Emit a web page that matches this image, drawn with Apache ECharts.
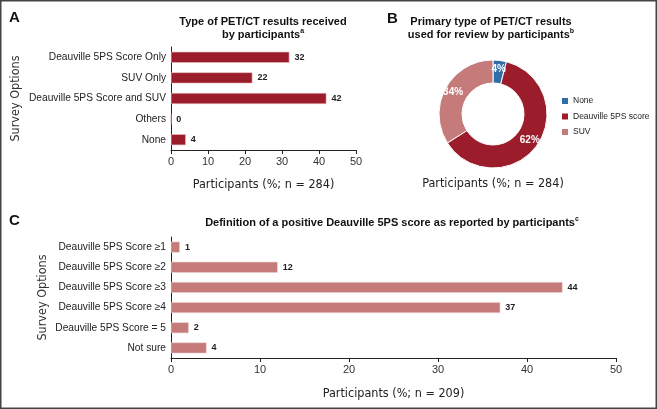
<!DOCTYPE html>
<html>
<head>
<meta charset="utf-8">
<script src="https://cdn.jsdelivr.net/npm/echarts@6/dist/echarts.min.js"></script>
<style>
  html, body { margin: 0; padding: 0; background: #fff; }
  #chart { width: 657px; height: 409px; }
</style>
</head>
<body>
<div id="chart"></div>
<script>
// panel A: type of results received
var typeCats = ['Deauville 5PS Score Only', 'SUV Only', 'Deauville 5PS Score and SUV', 'Others', 'None']
var typeVals = [32, 22, 42, 0, 4]

// panel B: primary type used for review
var primaryNames = ['None', 'Deauville 5PS score', 'SUV']
var primaryVals = [4, 62, 34]

// panel C: positive Deauville definition
var defCats = ['Deauville 5PS Score \u22651', 'Deauville 5PS Score \u22652', 'Deauville 5PS Score \u22653',
  'Deauville 5PS Score \u22654', 'Deauville 5PS Score = 5', 'Not sure']
var defVals = [1, 12, 44, 37, 2, 4]

var xTicks = [0, 10, 20, 30, 40, 50]

var DARK = '#9b1c2b'
var ROSE = '#c47b79'
var BLUE = '#2f6ea8'
var NARROW = '"Liberation Sans Narrow", "DejaVu Sans Condensed", "Liberation Sans", sans-serif'
var SANS = '"Liberation Sans", Arial, sans-serif'

var chart = echarts.init(document.getElementById('chart'))

function xAxisOf(gridIndex, name, gap) {
  return {
    type: 'value',
    gridIndex: gridIndex,
    min: xTicks[0],
    max: xTicks[xTicks.length - 1],
    interval: 10,
    splitLine: { show: false },
    axisLine: { show: true, lineStyle: { color: '#222', width: 1 } },
    axisTick: { show: true, length: 4, lineStyle: { color: '#222' } },
    axisLabel: { color: '#333', fontSize: 11, fontFamily: SANS, margin: 6 },
    name: name,
    nameLocation: 'middle',
    nameGap: gap,
    nameMoveOverlap: false,
    nameTextStyle: { color: '#222', fontSize: 12.5, fontFamily: NARROW }
  }
}

function yAxisOf(gridIndex, cats, gap) {
  return {
    type: 'category',
    gridIndex: gridIndex,
    data: cats,
    inverse: true,
    axisLine: { show: true, lineStyle: { color: '#222', width: 1 } },
    axisTick: { show: false },
    axisLabel: { color: '#222', fontSize: 10.2, fontFamily: SANS, margin: 5 },
    name: 'Survey Options',
    nameLocation: 'middle',
    nameRotate: 90,
    nameGap: gap,
    nameMoveOverlap: false,
    nameTextStyle: { color: '#333', fontSize: 12.5, fontFamily: NARROW }
  }
}

var barLabel = {
  show: true,
  position: 'right',
  distance: 5,
  color: '#222',
  fontSize: 9,
  fontWeight: 'bold',
  fontFamily: SANS
}

var titleStyle = {
  color: '#111',
  fontSize: 11,
  fontWeight: 'bold',
  fontFamily: SANS,
  lineHeight: 13,
  rich: {
    sup: { fontSize: 7, fontWeight: 'bold', fontFamily: SANS, padding: [0, 0, 6, 0] }
  }
}

var panelLetter = { fontSize: 15, fontWeight: 'bold', fontFamily: SANS, color: '#111' }

chart.setOption({
  animation: false,
  backgroundColor: '#fff',
  title: [
    { text: 'A', left: 9, top: 10, padding: 0, textStyle: panelLetter },
    { text: 'B', left: 387, top: 11, padding: 0, textStyle: panelLetter },
    { text: 'C', left: 9, top: 213, padding: 0, textStyle: panelLetter },
    {
      text: 'Type of PET/CT results received\nby participants{sup|a}',
      left: 263, top: 15, padding: 0, textAlign: 'center', textStyle: titleStyle
    },
    {
      text: 'Primary type of PET/CT results\nused for review by participants{sup|b}',
      left: 491, top: 15, padding: 0, textAlign: 'center', textStyle: titleStyle
    },
    {
      text: 'Definition of a positive Deauville 5PS score as reported by participants{sup|c}',
      left: 392, top: 216, padding: 0, textAlign: 'center', textStyle: titleStyle
    },
    {
      text: 'Participants (%; n = 284)',
      left: 493, top: 177, padding: 0, textAlign: 'center',
      textStyle: { color: '#222', fontSize: 12.5, fontWeight: 'normal', fontFamily: NARROW }
    }
  ],
  grid: [
    { left: 171, top: 47, width: 185, height: 103 },
    { left: 171, top: 237, width: 445, height: 121 }
  ],
  xAxis: [xAxisOf(0, 'Participants (%; n = 284)', 28), xAxisOf(1, 'Participants (%; n = 209)', 29)],
  yAxis: [yAxisOf(0, typeCats, 149), yAxisOf(1, defCats, 122)],
  legend: {
    orient: 'vertical',
    left: 560,
    top: 96,
    padding: 0,
    itemWidth: 8,
    itemHeight: 8,
    itemGap: 5.5,
    icon: 'rect',
    data: primaryNames,
    textStyle: { color: '#222', fontSize: 8.5, fontFamily: SANS, padding: [0, 0, 0, -1] }
  },
  series: [
    {
      type: 'bar',
      xAxisIndex: 0,
      yAxisIndex: 0,
      data: typeVals,
      barWidth: 11,
      itemStyle: { color: DARK, borderColor: '#e7b9bd', borderWidth: 0.6 },
      label: barLabel
    },
    {
      type: 'bar',
      xAxisIndex: 1,
      yAxisIndex: 1,
      data: defVals,
      barWidth: 11,
      itemStyle: { color: ROSE, borderColor: '#f1d6d5', borderWidth: 0.6 },
      label: barLabel
    },
    {
      type: 'pie',
      center: [493, 114],
      radius: [31, 54],
      startAngle: 90,
      clockwise: true,
      data: primaryNames.map(function(n, i) {
        return { name: n, value: primaryVals[i] }
      }),
      color: [BLUE, DARK, ROSE],
      itemStyle: { borderColor: '#fff', borderWidth: 1 },
      label: {
        show: true,
        position: 'inside',
        formatter: '{c}%',
        color: '#fff',
        fontSize: 10,
        fontWeight: 'bold',
        fontFamily: SANS
      },
      labelLine: { show: false }
    }
  ],
  graphic: [
    {
      type: 'rect',
      shape: { x: 0.75, y: 0.75, width: 655.5, height: 407.5 },
      style: { fill: 'none', stroke: '#444', lineWidth: 1.5 },
      silent: true
    }
  ]
})
</script>
</body>
</html>
